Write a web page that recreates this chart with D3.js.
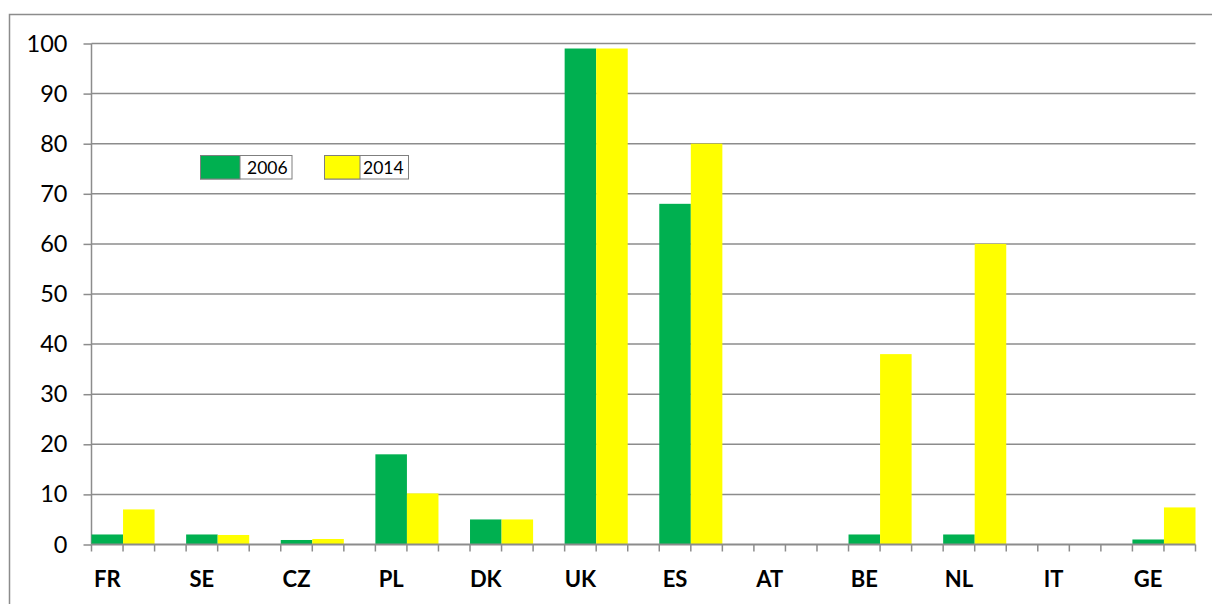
<!DOCTYPE html>
<html>
  <head>
    <title>2006 vs 2014</title>
    <script src="https://d3js.org/d3.v7.min.js"></script>
    <style>
      body { margin: 0; background: #fff; }
      text { font-family: Lato, "Open Sans", sans-serif; fill: #000; }
    </style>
  </head>
  <body>
  </body>
</html>

<script>
  var width = 1212
  var height = 604

  // data
  var countries = ["FR", "SE", "CZ", "PL", "DK", "UK", "ES", "AT", "BE", "NL", "IT", "GE"]
  var values2006 = [2, 2, 0.9, 18, 5, 99, 68, 0, 2, 2, 0, 1]
  var values2014 = [7, 1.9, 1.1, 10.2, 5, 99, 80, 0, 38, 60, 0, 7.4]
  var yTicks = [0, 10, 20, 30, 40, 50, 60, 70, 80, 90, 100]
  var seriesNames = ["2006", "2014"]
  var seriesColors = ["#00b050", "#ffff00"]

  var left = 91.5
  var right = 1195.5
  var unit = (right - left) / 35   // green, yellow, gap ... last group has no gap

  var svg = d3.select("body")
              .append("svg")
              .attr("width", width)
              .attr("height", height)

  // outer chart border (runs off the bottom/right of the image)
  svg.append("rect")
     .attr("x", 9.5).attr("y", 14.5)
     .attr("width", 1210).attr("height", 600)
     .attr("fill", "none")
     .attr("stroke", "#8c8c8c")
     .attr("stroke-width", 1.5)

  var x = d3.scaleBand()
            .domain(countries)
            .range([left, left + unit * 36])

  var y = d3.scaleLinear()
            .domain([0, 100])
            .range([544.5, 43.5])

  // gridlines
  svg.append("g")
     .selectAll("line")
     .data(yTicks.slice(1))
     .enter()
     .append("line")
     .attr("x1", left).attr("x2", right)
     .attr("y1", function(d) { return y(d) })
     .attr("y2", function(d) { return y(d) })
     .attr("stroke", "#8c8c8c")
     .attr("stroke-width", 1.5)

  // y axis
  var yAxis = svg.append("g")
                 .attr("transform", "translate(" + left + ",0)")
                 .call(d3.axisLeft(y).tickValues(yTicks).tickSize(8).tickPadding(16))
  yAxis.selectAll("path, line").attr("stroke", "#8c8c8c").attr("stroke-width", 1.5)
  yAxis.select(".domain").attr("d", "M0," + y(100) + "V" + y(0))
  yAxis.selectAll("text")
       .style("font-family", "Lato, sans-serif")
       .style("font-size", "23.5px")
       .attr("fill", "#000")

  var series = [values2006, values2014]

  series.forEach(function(vals, s) {
    svg.append("g")
       .selectAll("rect")
       .data(countries)
       .enter()
       .append("rect")
       .attr("x", function(d) { return x(d) + s * unit })
       .attr("width", unit)
       .attr("y", function(d, i) { return y(vals[i]) })
       .attr("height", function(d, i) { return y(0) - y(vals[i]) })
       .attr("fill", seriesColors[s])
  })

  // x axis line + ticks at every slot boundary
  svg.append("line")
     .attr("x1", left).attr("x2", right)
     .attr("y1", y(0)).attr("y2", y(0))
     .attr("stroke", "#8c8c8c").attr("stroke-width", 2)

  svg.append("g")
     .selectAll("line")
     .data(d3.range(36))
     .enter()
     .append("line")
     .attr("x1", function(d) { return left + d * unit })
     .attr("x2", function(d) { return left + d * unit })
     .attr("y1", y(0)).attr("y2", y(0) + 7)
     .attr("stroke", "#8c8c8c").attr("stroke-width", 1.5)

  svg.append("g")
     .selectAll("text")
     .data(countries)
     .enter()
     .append("text")
     .attr("x", function(d) { return x(d) + unit / 2 })
     .attr("y", 587)
     .attr("text-anchor", "middle")
     .style("font-size", "22px")
     .style("font-weight", "bold")
     .text(function(d) { return d })

  // legend
  var legendX = [200.5, 324.5]
  var legendW = [91.5, 84]
  var swatchW = [39.5, 35.5]
  var textX = [247, 363]
  var legend = svg.append("g")
  seriesNames.forEach(function(name, i) {
    legend.append("rect")
          .attr("x", legendX[i]).attr("y", 155.5)
          .attr("width", legendW[i]).attr("height", 23.5)
          .attr("fill", "#fff")
          .attr("stroke", "#7f7f7f")
    legend.append("rect")
          .attr("x", legendX[i]).attr("y", 155.5)
          .attr("width", swatchW[i]).attr("height", 23.5)
          .attr("fill", seriesColors[i])
          .attr("stroke", "#7f7f7f")
    legend.append("text")
          .attr("x", textX[i])
          .attr("y", 173.5)
          .style("font-size", "17.5px")
          .text(name)
  })
</script>
